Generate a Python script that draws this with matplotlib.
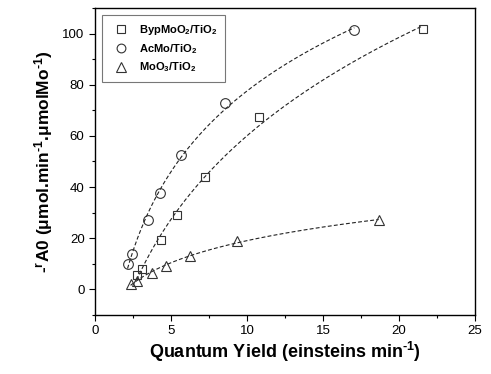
import numpy as np
import matplotlib
matplotlib.use("Agg")
import matplotlib.pyplot as plt
from matplotlib.ticker import MultipleLocator

plt.rcParams['font.family'] = ['Liberation Sans', 'DejaVu Sans']
plt.rcParams['mathtext.fontset'] = 'custom'
plt.rcParams['mathtext.rm'] = 'Liberation Sans:bold'
plt.rcParams['mathtext.bf'] = 'Liberation Sans:bold'
plt.rcParams['mathtext.default'] = 'rm'

# Data
byp_x = [2.74, 3.10, 4.33, 5.40, 7.22, 10.78, 21.55]
byp_y = [5.5, 8.1, 19.2, 29.0, 44.0, 67.3, 101.8]

acmo_x = [2.14, 2.45, 3.46, 4.27, 5.69, 8.53, 17.06]
acmo_y = [9.8, 14.0, 27.0, 37.8, 52.4, 72.8, 101.3]

moo3_x = [2.34, 2.73, 3.76, 4.70, 6.23, 9.32, 18.66]
moo3_y = [2.2, 3.1, 6.4, 9.3, 13.2, 19.0, 27.0]

labels = [r'BypMoO$_2$/TiO$_2$', r'AcMo/TiO$_2$', r'MoO$_3$/TiO$_2$']
x_ticks = [0, 5, 10, 15, 20, 25]
y_ticks = [0, 20, 40, 60, 80, 100]

fig = plt.figure(figsize=(4.91, 3.74), dpi=100)
ax = fig.add_axes([0.1935, 0.1578, 0.7739, 0.8208])

series = [(byp_x, byp_y, 's', 6.0), (acmo_x, acmo_y, 'o', 7.0), (moo3_x, moo3_y, '^', 7.5)]
for (xs, ys, mk, ms), lab in zip(series, labels):
    xs = np.array(xs); ys = np.array(ys)
    coef = np.polyfit(np.log(xs), ys, 2)
    xx = np.linspace(xs.min(), xs.max(), 200)
    ax.plot(xx, np.polyval(coef, np.log(xx)), ls=(0, (3.5, 2)), color='#222222', lw=0.8, zorder=2)
    ax.plot(xs, ys, ls='none', marker=mk, ms=ms, mfc='none', mec='#333333', mew=0.8,
            label=lab, zorder=3)

ax.set_xlim(0, 25)
ax.set_ylim(-10, 110)
ax.set_xticks(x_ticks)
ax.set_yticks(y_ticks)
ax.xaxis.set_minor_locator(MultipleLocator(2.5))
ax.yaxis.set_minor_locator(MultipleLocator(10))
ax.tick_params(which='both', direction='out', top=False, right=False, labelsize=9.5, width=0.8)
ax.tick_params(which='major', length=4)
ax.tick_params(which='minor', length=2.5)
for s in ax.spines.values():
    s.set_linewidth(1.0)

ax.set_xlabel(r'Quantum Yield (einsteins min$^{\text{-}1}$)', fontsize=13, fontweight='bold', labelpad=2)
ax.set_ylabel(r'$\text{-}^{r}$A0 (μmol.min$^{\text{-}1}$.μmolMo$^{\text{-}1}$)', fontsize=12.5,
              fontweight='bold', labelpad=5)

leg = ax.legend(loc='upper left', fontsize=8, frameon=True, fancybox=False, edgecolor='#555555',
                borderpad=0.7, handletextpad=0.6, labelspacing=0.45, markerscale=0.9,
                bbox_to_anchor=(0.005, 0.995))
leg.get_frame().set_linewidth(0.8)
for t in leg.get_texts():
    t.set_fontweight('bold')

fig.savefig('out.png', dpi=100)
